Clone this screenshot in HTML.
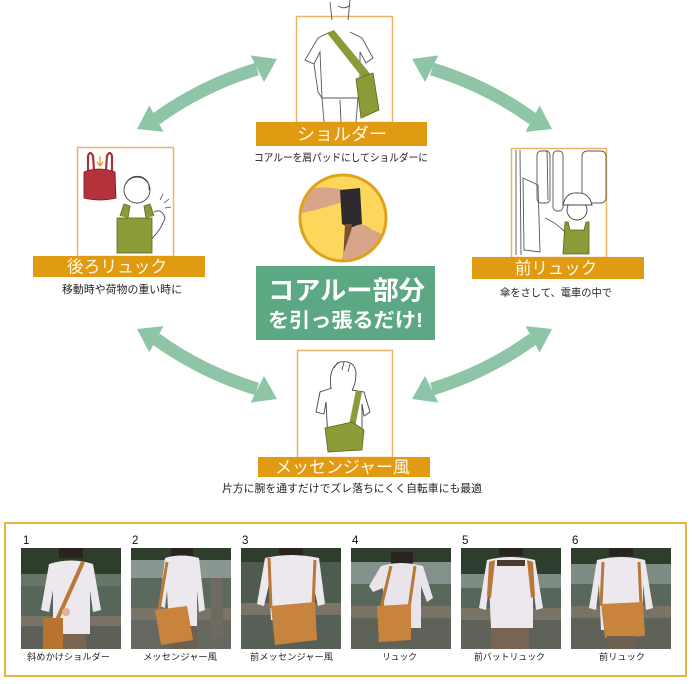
<!DOCTYPE html>
<html><head><meta charset="utf-8"><style>
html,body{margin:0;padding:0;background:#fff;width:692px;height:684px;overflow:hidden}
svg{display:block}
text{font-family:"Liberation Sans","Noto Sans CJK JP",sans-serif}
</style></head><body>
<svg width="692" height="684" viewBox="0 0 692 684" xmlns="http://www.w3.org/2000/svg">
<defs>
<clipPath id="cc"><circle cx="343" cy="218" r="43"/></clipPath>
<clipPath id="pc"><rect width="100" height="101"/></clipPath>
</defs>
<!-- arrows -->
<g fill="#8ec5a6">
<path d="M156,119 Q201.5,86 257,69" stroke="#8ec5a6" stroke-width="13" fill="none"/>
<polygon points="277,59 264,82 250.6,55.4"/>
<polygon points="137,129 163.5,131.9 149.3,105.5"/>
</g>
<g transform="matrix(-1,0,0,1,689,0)" fill="#8ec5a6">
<path d="M156,119 Q201.5,86 257,69" stroke="#8ec5a6" stroke-width="13" fill="none"/>
<polygon points="277,59 264,82 250.6,55.4"/>
<polygon points="137,129 163.5,131.9 149.3,105.5"/>
</g>
<g transform="matrix(1,0,0,-1,0,458)" fill="#8ec5a6">
<path d="M156,119 Q201.5,86 257,69" stroke="#8ec5a6" stroke-width="13" fill="none"/>
<polygon points="277,59 264,82 250.6,55.4"/>
<polygon points="137,129 163.5,131.9 149.3,105.5"/>
</g>
<g transform="matrix(-1,0,0,-1,689,458)" fill="#8ec5a6">
<path d="M156,119 Q201.5,86 257,69" stroke="#8ec5a6" stroke-width="13" fill="none"/>
<polygon points="277,59 264,82 250.6,55.4"/>
<polygon points="137,129 163.5,131.9 149.3,105.5"/>
</g>

<!-- TOP panel -->
<rect x="296.5" y="16.5" width="96" height="106" fill="#fff" stroke="#e8b465" stroke-width="1.5"/>
<g fill="none" stroke="#555" stroke-width="0.9">
<path d="M330,2 L332,20 M350,0 L348,20 M338,6 Q345,10 350,5"/>
<path d="M330,32 L318,38 L305,60 L314,64 L320,52 L322,98 L360,98 L360,52 L366,63 L373,58 L362,38 L350,32"/>
<path d="M314,64 L318,92 L322,98 M322,98 L324,122 M358,98 L356,122 M340,100 L341,122"/>
</g>
<polygon points="327,33 334,30 372,76 365,81" fill="#8c9a38"/>
<polygon points="356,79 373,73 379,110 361,118" fill="#8c9a38" stroke="#5a6420" stroke-width="0.8"/>
<rect x="256" y="122" width="171" height="24" fill="#e09b12"/>
<text x="342" y="140" font-size="17" fill="#fff8e6" text-anchor="middle" textLength="90" lengthAdjust="spacingAndGlyphs">ショルダー</text>
<text x="341" y="161" font-size="10.5" fill="#222" text-anchor="middle" textLength="174" lengthAdjust="spacingAndGlyphs">コアルーを肩パッドにしてショルダーに</text>

<!-- LEFT panel -->
<rect x="77.5" y="147.5" width="96" height="109" fill="#fff" stroke="#e8b465" stroke-width="1.5"/>
<path d="M88,172 L88,156 Q90,150 93,156 L94,170 M106,170 L107,156 Q110,150 112,156 L112,172" fill="none" stroke="#a8303a" stroke-width="2.2"/>
<path d="M84,172 Q99,166 115,172 L116,198 Q100,202 84,198 Z" fill="#b5323b" stroke="#6a1a20" stroke-width="0.8"/>
<path d="M100,156 L100,165 M97,162 L100,166 L103,162" stroke="#e09b12" stroke-width="1.2" fill="none"/>
<circle cx="137" cy="190" r="13" fill="#fff" stroke="#444" stroke-width="0.9"/>
<path d="M125,185 Q130,174 142,177 Q150,181 149,190" fill="none" stroke="#444" stroke-width="0.9"/>
<path d="M120,216 L124,204 L130,206 L128,218 M146,218 L144,206 L150,204 L154,216" fill="#8c9a38" stroke="#5a6420" stroke-width="0.8"/>
<path d="M154,212 Q162,208 165,218 Q160,232 150,240" fill="none" stroke="#444" stroke-width="0.9"/>
<path d="M160,200 L163,194 M164,203 L169,199 M165,208 L171,207" stroke="#444" stroke-width="0.8"/>
<rect x="117" y="218" width="35" height="35" fill="#8c9a38" stroke="#5a6420" stroke-width="0.8"/>
<rect x="33" y="256" width="172" height="21" fill="#e09b12"/>
<text x="117" y="272.5" font-size="17" fill="#fff8e6" text-anchor="middle" textLength="100" lengthAdjust="spacingAndGlyphs">後ろリュック</text>
<text x="122" y="293" font-size="11" fill="#222" text-anchor="middle" textLength="120" lengthAdjust="spacingAndGlyphs">移動時や荷物の重い時に</text>

<!-- RIGHT panel -->
<rect x="511.5" y="148.5" width="95" height="109" fill="#fff" stroke="#e8b465" stroke-width="1.5"/>
<g fill="none" stroke="#555" stroke-width="0.9">
<rect x="537" y="151" width="13" height="52" rx="4"/>
<rect x="553" y="151" width="10" height="60" rx="4"/>
<rect x="582" y="151" width="24" height="52" rx="5"/>
<path d="M523,178 L538,185 L540,252 L524,250 Z"/>
<path d="M516,150 L516,255 M520,150 L521,255 M547,150 L548,200"/>
<path d="M545,218 Q555,222 565,232"/>
</g>
<circle cx="577" cy="210" r="10" fill="#fff" stroke="#444" stroke-width="0.9"/>
<path d="M563,205 Q566,192 577,193 Q589,192 592,205 Z" fill="#fff" stroke="#444" stroke-width="0.9"/>
<path d="M565,222 L568,222 L570,230 L584,230 L586,222 L589,222 L589,254 L563,254 Z" fill="#8c9a38" stroke="#5a6420" stroke-width="0.8"/>
<rect x="472" y="257" width="172" height="22" fill="#e09b12"/>
<text x="556" y="274" font-size="17" fill="#fff8e6" text-anchor="middle" textLength="82" lengthAdjust="spacingAndGlyphs">前リュック</text>
<text x="556" y="296" font-size="10.5" fill="#222" text-anchor="middle" textLength="112" lengthAdjust="spacingAndGlyphs">傘をさして、電車の中で</text>

<!-- CENTER -->
<circle cx="343" cy="218" r="43" fill="#fcd75c"/>
<g clip-path="url(#cc)">
<path d="M296,192 Q312,186 332,188 L346,190 L348,200 L336,204 Q318,210 296,214 Z" fill="#d9a58a"/>
<path d="M340,190 L360,188 L362,224 L350,228 L342,224 Z" fill="#2e2a2e"/>
<path d="M345,224 L352,224 L350,262 L343,262 Z" fill="#7a5030"/>
<path d="M352,228 Q362,220 372,230 Q388,234 390,248 L370,264 L340,264 Q346,246 352,228 Z" fill="#d9a58a"/>
</g>
<circle cx="343" cy="218" r="43" fill="none" stroke="#e0a21c" stroke-width="3"/>
<rect x="256" y="266" width="179" height="74" fill="#5ca883"/>
<text x="346.5" y="299.5" font-size="26" font-weight="bold" fill="#fff" text-anchor="middle" textLength="157" lengthAdjust="spacingAndGlyphs">コアルー部分</text>
<text x="345.5" y="327" font-size="20" font-weight="bold" fill="#fff" text-anchor="middle" textLength="155" lengthAdjust="spacingAndGlyphs">を引っ張るだけ!</text>

<!-- BOTTOM panel -->
<rect x="297.5" y="350.5" width="95" height="107" fill="#fff" stroke="#e8b465" stroke-width="1.5"/>
<path d="M331,388 Q328,368 340,362 Q354,360 356,372 Q356,384 352,390" fill="#fff" stroke="#444" stroke-width="0.9"/>
<path d="M334,368 L338,362 M342,370 L344,362 M348,372 L350,364" stroke="#444" stroke-width="0.8"/>
<path d="M332,388 L320,392 L316,412 L324,414 L326,402 L328,440 M352,390 L364,392 L370,412 L364,416 L362,404 L362,440" fill="none" stroke="#444" stroke-width="0.9"/>
<polygon points="356,390 362,392 354,432 348,430" fill="#8c9a38"/>
<polygon points="325,428 352,422 364,430 362,450 328,452" fill="#8c9a38" stroke="#5a6420" stroke-width="0.8"/>
<rect x="258" y="457" width="172" height="20" fill="#e09b12"/>
<text x="342.5" y="473" font-size="17" fill="#fff8e6" text-anchor="middle" textLength="135" lengthAdjust="spacingAndGlyphs">メッセンジャー風</text>
<text x="352" y="492" font-size="10.8" fill="#222" text-anchor="middle" textLength="260" lengthAdjust="spacingAndGlyphs">片方に腕を通すだけでズレ落ちにくく自転車にも最適</text>

<!-- bottom photo strip -->
<rect x="5" y="523" width="681" height="153" fill="#fff" stroke="#e6b545" stroke-width="2"/>
<g font-size="11.5" fill="#111">
<text x="23" y="544">1</text><text x="132" y="544">2</text><text x="242" y="544">3</text>
<text x="352" y="544">4</text><text x="462" y="544">5</text><text x="572" y="544">6</text>
</g>

<!-- photo 1 -->
<g transform="translate(21,548)" clip-path="url(#pc)">
<rect width="100" height="101" fill="#56665a"/><rect width="100" height="26" fill="#2e3d2c"/>
<rect y="26" width="100" height="12" fill="#667566"/>
<rect y="68" width="100" height="10" fill="#7a7466"/><rect y="78" width="100" height="23" fill="#5c6058"/>
<rect x="38" y="0" width="24" height="10" fill="#2a2420"/>
<path d="M28,16 Q50,9 72,16 L80,62 L72,64 L69,42 L69,86 L32,86 L32,42 L28,64 L20,62 Z" fill="#ece8ee"/>
<rect x="38" y="86" width="27" height="15" fill="#7a6650"/>
<line x1="62" y1="14" x2="36" y2="72" stroke="#b87838" stroke-width="4"/>
<rect x="22" y="70" width="20" height="31" fill="#b8742e"/>
<circle cx="45" cy="64" r="4" fill="#e0b098"/>
</g>
<!-- photo 2 -->
<g transform="translate(131,548)" clip-path="url(#pc)">
<rect width="100" height="101" fill="#5c6a5e"/><rect width="100" height="12" fill="#2e3d2c"/>
<rect y="12" width="100" height="18" fill="#8a9690"/>
<rect y="60" width="100" height="12" fill="#7a7466"/><rect y="72" width="100" height="29" fill="#646860"/>
<rect x="80" y="30" width="12" height="60" fill="#6e6a60"/>
<rect x="40" y="0" width="22" height="8" fill="#2a2420"/>
<path d="M34,10 Q50,5 68,10 L74,62 L68,64 L66,42 L66,80 L38,80 L36,42 L34,60 L28,58 Z" fill="#ece8ee"/>
<rect x="40" y="78" width="26" height="23" fill="#6e6050"/>
<line x1="36" y1="14" x2="28" y2="62" stroke="#b87838" stroke-width="3"/>
<polygon points="24,62 56,58 62,92 30,97" fill="#c8843c"/>
</g>
<!-- photo 3 -->
<g transform="translate(241,548)" clip-path="url(#pc)">
<rect width="100" height="101" fill="#4e5c50"/><rect width="100" height="14" fill="#2e3d2c"/>
<rect y="55" width="100" height="12" fill="#7a7466"/><rect y="67" width="100" height="34" fill="#566056"/>
<rect x="38" y="0" width="24" height="8" fill="#2a2420"/>
<path d="M24,10 Q50,4 78,10 L84,56 L77,58 L72,36 L72,72 L30,72 L28,36 L23,58 L16,56 Z" fill="#ece8ee"/>
<line x1="28" y1="10" x2="30" y2="60" stroke="#b87838" stroke-width="3"/>
<line x1="74" y1="12" x2="72" y2="58" stroke="#b87838" stroke-width="3"/>
<polygon points="30,58 74,54 76,92 34,97" fill="#c8843c"/>
</g>
<!-- photo 4 -->
<g transform="translate(351,548)" clip-path="url(#pc)">
<rect width="100" height="101" fill="#5a685c"/><rect width="100" height="14" fill="#2e3d2c"/>
<rect y="14" width="100" height="22" fill="#84908a"/>
<rect y="58" width="100" height="12" fill="#7a7466"/><rect y="70" width="100" height="31" fill="#5e6258"/>
<rect x="40" y="4" width="22" height="14" fill="#2a2420"/>
<path d="M30,18 Q50,12 72,18 L82,50 L76,54 L70,38 L70,80 L34,80 L32,40 L22,44 L18,38 Z" fill="#e8e4ea"/>
<line x1="40" y1="18" x2="30" y2="60" stroke="#b87838" stroke-width="3"/>
<line x1="64" y1="18" x2="58" y2="60" stroke="#b87838" stroke-width="3"/>
<polygon points="26,58 60,56 60,92 28,94" fill="#c8843c"/>
</g>
<!-- photo 5 -->
<g transform="translate(461,548)" clip-path="url(#pc)">
<rect width="100" height="101" fill="#56665a"/><rect width="100" height="26" fill="#2e3d2c"/>
<rect y="26" width="100" height="14" fill="#7e8c84"/>
<rect y="60" width="100" height="12" fill="#7a7466"/><rect y="72" width="100" height="29" fill="#5e6258"/>
<rect x="38" y="0" width="24" height="8" fill="#2a2420"/>
<path d="M26,12 Q50,6 74,12 L82,60 L75,62 L72,36 L72,80 L30,80 L28,36 L25,62 L18,60 Z" fill="#ece8ee"/>
<rect x="30" y="80" width="38" height="21" fill="#786452"/>
<path d="M28,14 L34,12 L30,50 L26,48 Z M66,12 L72,14 L74,48 L70,50 Z" fill="#b87838"/>
<rect x="36" y="12" width="28" height="6" fill="#4a3a30"/>
</g>
<!-- photo 6 -->
<g transform="translate(571,548)" clip-path="url(#pc)">
<rect width="100" height="101" fill="#5a685c"/><rect width="100" height="16" fill="#2e3d2c"/>
<rect y="16" width="100" height="20" fill="#7e8c84"/>
<rect y="58" width="100" height="12" fill="#7a7466"/><rect y="70" width="100" height="31" fill="#5e6258"/>
<rect x="38" y="0" width="24" height="8" fill="#2a2420"/>
<path d="M26,12 Q50,6 74,12 L82,60 L75,62 L72,36 L72,82 L30,82 L28,36 L25,62 L18,60 Z" fill="#ece8ee"/>
<line x1="32" y1="14" x2="30" y2="58" stroke="#b87838" stroke-width="3"/>
<line x1="68" y1="14" x2="70" y2="58" stroke="#b87838" stroke-width="3"/>
<polygon points="30,56 72,54 74,88 34,90" fill="#c8843c"/>
<rect x="36" y="88" width="28" height="13" fill="#6e6050"/>
</g>

<g font-size="9" fill="#222" text-anchor="middle">
<text x="68.5" y="660" textLength="83" lengthAdjust="spacingAndGlyphs">斜めかけショルダー</text>
<text x="180" y="660" textLength="74" lengthAdjust="spacingAndGlyphs">メッセンジャー風</text>
<text x="291.5" y="660" textLength="83" lengthAdjust="spacingAndGlyphs">前メッセンジャー風</text>
<text x="399.5" y="660" textLength="35" lengthAdjust="spacingAndGlyphs">リュック</text>
<text x="509.5" y="660" textLength="71" lengthAdjust="spacingAndGlyphs">前バットリュック</text>
<text x="622" y="660" textLength="46" lengthAdjust="spacingAndGlyphs">前リュック</text>
</g>
</svg>
</body></html>
